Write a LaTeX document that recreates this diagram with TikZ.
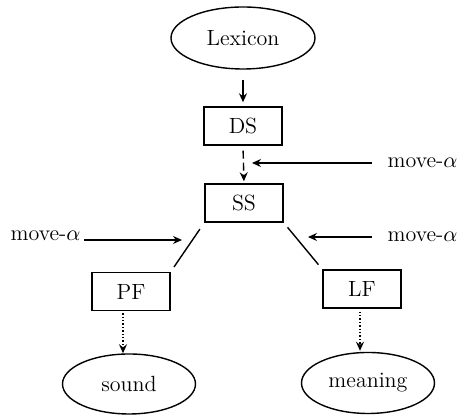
\documentclass[tikz,border=0pt]{standalone}
\usetikzlibrary{shapes.geometric,arrows.meta}
\begin{document}
\begin{tikzpicture}[x=0.5pt,y=-0.5pt,
  font=\fontsize{11}{13}\selectfont,
  line width=0.7pt,
  levelbox/.style={draw,rectangle,minimum width=39pt,minimum height=19pt,inner sep=0pt},
  endpoint/.style={draw,ellipse,inner sep=0pt},
  tip/.style={-{Stealth[length=4.5pt,width=4pt,inset=1.5pt]}},
  label/.style={inner sep=0pt,anchor=west}]
\useasboundingbox (0,0) rectangle (463,415);

% levels of representation
\node[endpoint,minimum width=72pt,minimum height=31pt] (lex) at (243,38) {Lexicon};
\node[levelbox] (ds) at (243,126) {DS};
\node[levelbox] (ss) at (244,203) {SS};
\node[levelbox] (pf) at (131,291.5) {PF};
\node[levelbox] (lf) at (362,289) {LF};
\node[endpoint,minimum width=66.5pt,minimum height=30pt] (sound) at (129,384) {sound};
\node[endpoint,minimum width=66.5pt,minimum height=30.5pt] (meaning) at (368,383) {meaning};

% transformational rule labels
\node[label] (mvA) at (387,163) {move-$\alpha$};
\node[label] (mvB) at (10,236) {move-$\alpha$};
\node[label] (mvC) at (387,237) {move-$\alpha$};
\coordinate (mvAend) at (252,163);
\coordinate (mvBend) at (182,240);
\coordinate (mvCend) at (308,237);

% derivation
\draw[tip,shorten <=5pt,shorten >=2pt] (lex.south) -- (ds.north);
\draw[tip,dashed,dash pattern=on 4pt off 2pt,shorten <=2.5pt,shorten >=1pt] (ds.south) -- (ss.north);
\draw[shorten <=3.9pt,shorten >=2.9pt] (ss.south west) -- (pf.north east);
\draw[shorten <=3pt,shorten >=3pt] (ss.south east) -- (lf.north west);
\draw[tip,densely dotted,shorten <=1pt] ([xshift=-4pt]pf.south) -- ([xshift=-4pt]pf.south |- sound.north);
\draw[tip,densely dotted,shorten <=1.5pt,shorten >=0.5pt] ([xshift=-1pt]lf.south) -- ([xshift=-1pt]lf.south |- meaning.north);

% move-alpha arrows
\draw[tip,shorten <=7.5pt] (mvA.west) -- (mvAend);
\draw[tip,shorten <=1.5pt] (mvB.east |- mvBend) -- (mvBend);
\draw[tip,shorten <=7.5pt] (mvC.west) -- (mvCend);
\end{tikzpicture}
\end{document}
